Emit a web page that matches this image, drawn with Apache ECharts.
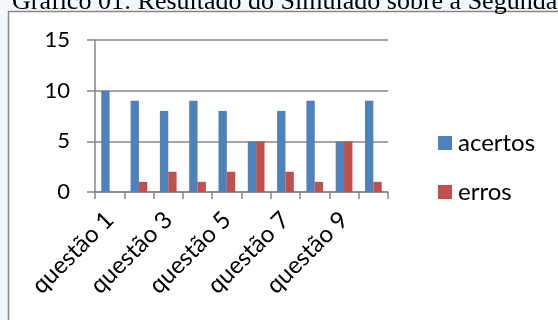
<!DOCTYPE html>
<html>
<head>
<meta charset="utf-8">
<script src="https://cdn.jsdelivr.net/npm/echarts@6/dist/echarts.min.js"></script>
<style>
  html, body { margin: 0; padding: 0; background: #f3f8fc; }
  #chart { width: 558px; height: 320px; }
</style>
</head>
<body>
<div id="chart"></div>
<script>
// Simulado: acertos e erros por questão
const questoes = ['questão 1', 'questão 2', 'questão 3', 'questão 4', 'questão 5',
                  'questão 6', 'questão 7', 'questão 8', 'questão 9', 'questão 10'];
const acertos = [10, 9, 8, 9, 8, 5, 8, 9, 5, 9];
const erros   = [0, 1, 2, 1, 2, 5, 2, 1, 5, 1];
const yTicks = { min: 0, max: 15, interval: 5 };
const titulo = 'Gráfico 01: Resultado do Simulado sobre a Segunda';

const sans = 'Lato';
const gray = '#878787';

const chart = echarts.init(document.getElementById('chart'), null, { renderer: 'canvas' });
chart.setOption({
  animation: false,
  backgroundColor: 'transparent',
  title: {
    text: titulo,
    left: 12,
    top: -11,
    padding: 0,
    textStyle: { fontFamily: 'Liberation Serif', fontSize: 26, fontWeight: 'normal', color: '#000' }
  },
  graphic: [{
    type: 'rect',
    z: -10,
    silent: true,
    shape: { x: 8.5, y: 11.5, width: 700, height: 500 },
    style: { fill: '#ffffff', stroke: gray, lineWidth: 1.5 }
  }],
  legend: {
    orient: 'vertical',
    left: 433,
    top: 126,
    itemWidth: 14,
    itemHeight: 14,
    itemGap: 25,
    icon: 'rect',
    textStyle: { fontFamily: sans, fontSize: 24, color: '#000', padding: [0, 0, 0, 1] },
    data: ['acertos', 'erros']
  },
  grid: { left: 95, right: 170, top: 40, bottom: 128, containLabel: false },
  xAxis: {
    type: 'category',
    data: questoes,
    axisLine: { show: true, lineStyle: { color: gray, width: 1.5 } },
    axisTick: { show: true, interval: 0, length: 7, lineStyle: { color: gray, width: 1.5 } },
    axisLabel: {
      interval: 1,
      rotate: 45,
      margin: 24,
      fontFamily: sans,
      fontSize: 24,
      color: '#000'
    },
    splitLine: { show: false }
  },
  yAxis: {
    type: 'value',
    min: yTicks.min,
    max: yTicks.max,
    interval: yTicks.interval,
    axisLine: { show: true, lineStyle: { color: gray, width: 1.5 } },
    axisTick: { show: true, length: 8, lineStyle: { color: gray, width: 1.5 } },
    axisLabel: { margin: 25, fontFamily: sans, fontSize: 22, color: '#000' },
    splitLine: { show: true, lineStyle: { color: gray, width: 1.5 } }
  },
  series: [
    {
      name: 'acertos',
      type: 'bar',
      data: acertos,
      barGap: '0%',
      barCategoryGap: '43%',
      itemStyle: { color: '#4F81BD' }
    },
    {
      name: 'erros',
      type: 'bar',
      data: erros,
      itemStyle: { color: '#C0504D' }
    }
  ]
});
</script>
</body>
</html>
